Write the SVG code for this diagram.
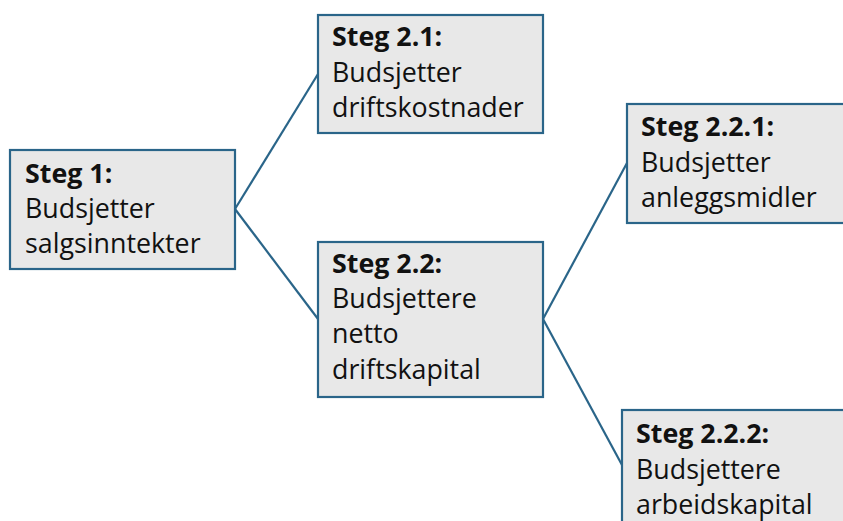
<svg xmlns="http://www.w3.org/2000/svg" width="843" height="521" viewBox="0 0 843 521">
<style>
.box{fill:#E8E8E8;stroke:#2A6589;stroke-width:2.2}
.t{font-family:"Open Sans","DejaVu Sans",sans-serif;font-size:26.8px;fill:#111}
.b{font-weight:bold}
.c{stroke:#2A6589;stroke-width:2.2;fill:none}
</style>
<rect width="843" height="521" fill="#FFFFFF"/>
<g id="connectors">
<line class="c" x1="235" y1="209" x2="318" y2="74"/>
<line class="c" x1="235" y1="209" x2="318" y2="319"/>
<line class="c" x1="543" y1="319" x2="627" y2="163"/>
<line class="c" x1="543" y1="319" x2="622" y2="465"/>
</g>
<g id="steg1">
<rect class="box" x="10" y="150" width="225" height="119"/>
<text class="t b" x="25" y="183">Steg 1:</text>
<text class="t" x="25" y="218">Budsjetter</text>
<text class="t" x="25" y="253">salgsinntekter</text>
</g>
<g id="steg21">
<rect class="box" x="318" y="15" width="225" height="118"/>
<text class="t b" x="332" y="46">Steg 2.1:</text>
<text class="t" x="332" y="82">Budsjetter</text>
<text class="t" x="332" y="117">driftskostnader</text>
</g>
<g id="steg22">
<rect class="box" x="318" y="242" width="225" height="155"/>
<text class="t b" x="332" y="273">Steg 2.2:</text>
<text class="t" x="332" y="308">Budsjettere</text>
<text class="t" x="332" y="343">netto</text>
<text class="t" x="332" y="379">driftskapital</text>
</g>
<g id="steg221">
<rect class="box" x="627" y="104" width="230" height="119"/>
<text class="t b" x="641" y="136">Steg 2.2.1:</text>
<text class="t" x="641" y="172">Budsjetter</text>
<text class="t" x="641" y="207">anleggsmidler</text>
</g>
<g id="steg222">
<rect class="box" x="622" y="410" width="235" height="130"/>
<text class="t b" x="636" y="443">Steg 2.2.2:</text>
<text class="t" x="636" y="479">Budsjettere</text>
<text class="t" x="636" y="514">arbeidskapital</text>
</g>
</svg>
